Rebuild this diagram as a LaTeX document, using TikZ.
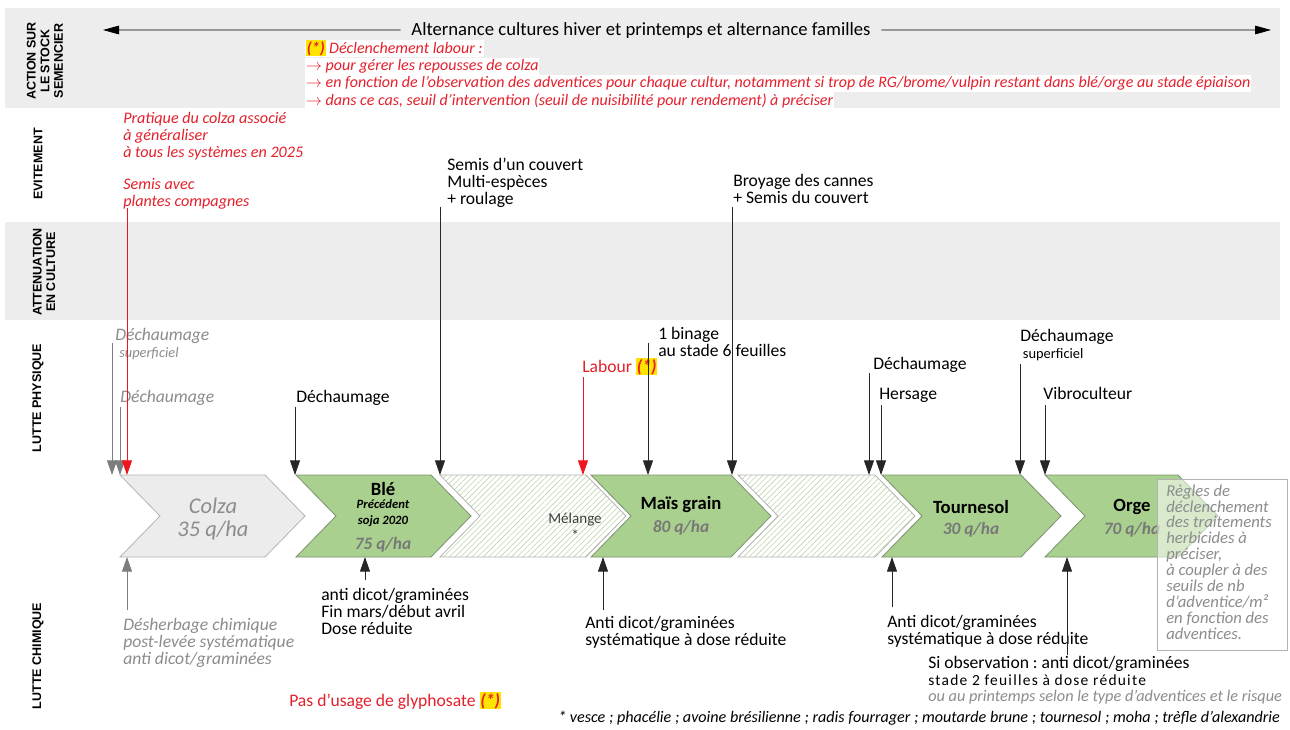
\documentclass[tikz,border=0pt]{standalone}
\usepackage{fontspec}
\setmainfont{Carlito}
\newfontfamily\labfont{Liberation Sans}
\newfontfamily\spacedfont{Carlito}[LetterSpace=8]
\usetikzlibrary{arrows.meta,patterns.meta}

\definecolor{bandgrey}{RGB}{237,237,237}
\definecolor{notered}{RGB}{228,32,44}
\definecolor{arrowred}{RGB}{240,20,30}
\definecolor{softgrey}{RGB}{140,140,140}
\definecolor{linegrey}{RGB}{125,125,125}
\definecolor{cropgreen}{RGB}{169,208,142}
\definecolor{cropedge}{RGB}{125,145,112}
\definecolor{colzafill}{RGB}{236,236,236}
\definecolor{colzaedge}{RGB}{180,180,180}
\definecolor{hatchgreen}{RGB}{190,214,172}
\definecolor{hlyellow}{RGB}{255,228,0}
\definecolor{yieldgrey}{RGB}{120,120,120}

\setlength{\fboxsep}{0.6pt}
\newcommand\hlstar{\colorbox{hlyellow}{\textbf{\textit{(*)}}}}
\newcommand\whl[1]{\colorbox{white}{\rule[-2.6pt]{0pt}{11.6pt}#1}}
\newcommand\rarr{$\rightarrow$}

% one crop of the rotation: left edge x0, top-right corner x1
\newcommand\chevron[3]{%
  \path[#3] (#1,475) -- (#2,475) -- (#2+40,516) -- (#2,557)
    -- (#1,557) -- (#1+40,516) -- cycle;}

% multi-line texts are anchored on the baseline of their last line
\tikzset{
  band/.style={fill=bandgrey, draw=none},
  sidelabel/.style={rotate=90, inner sep=0pt, align=center,
    font=\labfont\bfseries\fontsize{9.4}{10.2}\selectfont},
  txt/.style={anchor=base west, inner sep=0pt, align=left,
    font=\fontsize{13.2}{12.75}\selectfont},
  redtxt/.style={txt, text=notered, font=\itshape\fontsize{12}{13}\selectfont},
  greytxt/.style={txt, text=softgrey, font=\itshape\fontsize{13.2}{12.75}\selectfont},
  arr/.style={line width=0.75pt, -{Triangle[width=7.5pt,length=11pt]}},
  greyarr/.style={arr, draw=linegrey, fill=linegrey},
  redarr/.style={arr, draw=arrowred, fill=arrowred},
  blackarr/.style={arr, draw=black!85, fill=black},
  greencrop/.style={fill=cropgreen, draw=cropedge, line width=0.6pt},
  colzacrop/.style={fill=colzafill, draw=colzaedge, line width=0.6pt},
  hatchcrop/.style={preaction={fill=white},
    pattern={Lines[angle=45,distance=3pt,line width=0.45pt]},
    pattern color=hatchgreen},
  hatchedge/.style={draw=colzaedge, line width=0.6pt},
  cropname/.style={font=\bfseries\fontsize{14}{14}\selectfont, inner sep=0pt},
  yield/.style={font=\bfseries\itshape\fontsize{13}{14}\selectfont, text=yieldgrey, inner sep=0pt},
}

\begin{document}
\frenchspacing
\begin{tikzpicture}[x=0.75pt,y=-0.75pt]
\useasboundingbox (0,0) rectangle (1290,729);
\fill[white] (0,0) rectangle (1290,729);

% bands
\path[band] (5,8) rectangle (1280,108);
\path[band] (5,222) rectangle (1280,320);

% side labels
\node[sidelabel] (lab-stock) at (45,61) {ACTION SUR\\LE STOCK\\SEMENCIER};
\node[sidelabel] (lab-evit) at (38,164) {EVITEMENT};
\node[sidelabel] (lab-att) at (44,272) {ATTENUATION\\EN CULTURE};
\node[sidelabel] (lab-phys) at (38,398) {LUTTE PHYSIQUE};
\node[sidelabel] (lab-chim) at (38,656) {LUTTE CHIMIQUE};

% ploughing trigger notes
\node[redtxt] (labour-note) at (305,105) {%
  \whl{\hlstar\ Déclenchement labour :}\\
  \whl{\rarr\ pour gérer les repousses de colza}\\
  \whl{\rarr\ en fonction de l’observation des adventices pour chaque cultur, notamment si trop de RG/brome/vulpin restant dans blé/orge au stade épiaison}\\
  \whl{\rarr\ dans ce cas, seuil d’intervention (seuil de nuisibilité pour rendement) à préciser}};

% rotation arrow
\node[font=\fontsize{14}{14}\selectfont, inner xsep=8pt, inner ysep=0pt, anchor=base] (alt) at (641,35)
  {Alternance cultures hiver et printemps et alternance familles};
\coordinate (altL) at (103,30);
\coordinate (altR) at (1271,30);
\draw[line width=0.6pt, -{Triangle[width=6.5pt,length=12pt]}] (alt.west) -- (altL);
\draw[line width=0.6pt, -{Triangle[width=6.5pt,length=12pt]}] (alt.east) -- (altR);

% avoidance notes
\node[redtxt, font=\itshape\fontsize{12.1}{12.4}\selectfont] (colza-asso) at (123,157)
  {Pratique du colza associé\\à généraliser\\à tous les systèmes en 2025};
\node[redtxt, font=\itshape\fontsize{12.1}{12.4}\selectfont] (compagnes) at (123,206)
  {Semis avec\\plantes compagnes};

% crop rotation
\chevron{120}{265}{colzacrop}
\chevron{296}{431}{greencrop}
\chevron{440}{586}{hatchcrop}
\chevron{440}{586}{hatchedge}
\chevron{591}{731}{greencrop}
\chevron{738}{875}{hatchcrop}
\chevron{738}{875}{hatchedge}
\chevron{882}{1021}{greencrop}
\chevron{1045}{1178}{greencrop}

\node[font=\itshape\fontsize{16.8}{17.25}\selectfont, text=softgrey, align=center, inner sep=0pt] (colza) at (213,519) {Colza\\35 q/ha};
\node[cropname] (ble) at (383,489) {Blé};
\node[font=\bfseries\itshape\fontsize{9.5}{12}\selectfont, align=center, inner sep=0pt] (ble-prec) at (383,513) {Précédent\\soja 2020};
\node[yield] (ble-yield) at (383,545) {75 q/ha};
\node[font=\fontsize{11.3}{12.5}\selectfont, text=black!75, align=center, inner sep=0pt] (melange) at (575,527) {Mélange\\*};
\node[cropname] (mais) at (681,505) {Maïs grain};
\node[yield] (mais-yield) at (681,528) {80 q/ha};
\node[cropname] (tournesol) at (971,507) {Tournesol};
\node[yield] (tournesol-yield) at (971,530) {30 q/ha};
\node[cropname] (orge) at (1132,507) {Orge};
\node[yield] (orge-yield) at (1132,530) {70 q/ha};

% mechanical control labels
\node[greytxt] (dech-sup1) at (115,357) {Déchaumage\\\hspace*{3pt}{\fontsize{10.8}{12}\selectfont superficiel}};
\node[greytxt] (dech-colza) at (120,402) {Déchaumage};
\node[txt] (dech-ble) at (296,402) {Déchaumage};
\node[txt] (semis-couvert) at (447,204) {Semis d’un couvert\\Multi-espèces\\+ roulage};
\node[txt, text=notered] (labour) at (582,372) {Labour \hlstar};
\node[txt] (binage) at (658,356) {1 binage\\au stade 6 feuilles};
\node[txt] (broyage) at (733,203) {Broyage des cannes\\+ Semis du couvert};
\node[txt] (dech-tour) at (873,369) {Déchaumage};
\node[txt] (hersage) at (879,399) {Hersage};
\node[txt] (dech-sup2) at (1020,358) {Déchaumage\\\hspace*{2pt}{\fontsize{10.8}{12}\selectfont superficiel}};
\node[txt] (vibro) at (1043,399) {Vibroculteur};

% interventions from above
\coordinate (s1) at (112,343);  \coordinate (e1) at (112,475);
\coordinate (s2) at (120,407);  \coordinate (e2) at (120,475);
\coordinate (s3) at (127,208);  \coordinate (e3) at (127,475);
\coordinate (s4) at (295,407);  \coordinate (e4) at (295,475);
\coordinate (s5) at (440,207);  \coordinate (e5) at (440,475);
\coordinate (s6) at (583,377);  \coordinate (e6) at (583,475);
\coordinate (s7) at (648,343);  \coordinate (e7) at (648,475);
\coordinate (s8) at (732,207);  \coordinate (e8) at (732,475);
\coordinate (s9) at (869,373);  \coordinate (e9) at (869,475);
\coordinate (s10) at (881,405); \coordinate (e10) at (881,475);
\coordinate (s11) at (1020,364); \coordinate (e11) at (1020,475);
\coordinate (s12) at (1045,405); \coordinate (e12) at (1045,475);
\draw[greyarr] (s1) -- (e1);
\draw[greyarr] (s2) -- (e2);
\draw[redarr] (s3) -- (e3);
\draw[blackarr] (s4) -- (e4);
\draw[blackarr] (s5) -- (e5);
\draw[redarr] (s6) -- (e6);
\draw[blackarr] (s7) -- (e7);
\draw[blackarr] (s8) -- (e8);
\draw[blackarr] (s9) -- (e9);
\draw[blackarr] (s10) -- (e10);
\draw[blackarr] (s11) -- (e11);
\draw[blackarr] (s12) -- (e12);

% chemical control labels
\node[greytxt] (desherb) at (123,664) {Désherbage chimique\\post-levée systématique\\anti dicot/graminées};
\node[txt] (ble-chim) at (321,634) {anti dicot/graminées\\Fin mars/début avril\\Dose réduite};
\node[txt] (mais-chim) at (585,645) {Anti dicot/graminées\\systématique à dose réduite};
\node[txt] (tour-chim) at (887,644) {Anti dicot/graminées\\systématique à dose réduite};
\node[txt] (orge-chim) at (928,668) {Si observation : anti dicot/graminées};
\node[txt, font=\spacedfont\fontsize{11.6}{12}\selectfont] (orge-chim2) at (928,685) {stade 2 feuilles à dose réduite};
\node[txt, text=softgrey, font=\itshape\fontsize{12.2}{12}\selectfont] (orge-chim3) at (928,701) {ou au printemps selon le type d’adventices et le risque};
\node[txt, text=notered] (glypho) at (289,706) {Pas d’usage de glyphosate \hlstar};
\node[txt, font=\itshape\fontsize{12.1}{12}\selectfont] (melange-note) at (558,722)
  {* vesce ; phacélie ; avoine brésilienne ; radis fourrager ; moutarde brune ; tournesol ; moha ; trèfle d’alexandrie};

% interventions from below
\coordinate (b1) at (127,610);  \coordinate (c1) at (127,557);
\coordinate (b2) at (365,580);  \coordinate (c2) at (365,557);
\coordinate (b3) at (603,610);  \coordinate (c3) at (603,557);
\coordinate (b4) at (892,607);  \coordinate (c4) at (892,557);
\coordinate (b5) at (1067,655); \coordinate (c5) at (1067,557);
\draw[greyarr] (b1) -- (c1);
\draw[blackarr] (b2) -- (c2);
\draw[blackarr] (b3) -- (c3);
\draw[blackarr] (b4) -- (c4);
\draw[blackarr] (b5) -- (c5);

% herbicide trigger rules
\path[fill=white, fill opacity=0.55, draw=gray!60, line width=0.6pt] (1157,479) rectangle (1287,650);
\node[txt, text=softgrey, font=\itshape\fontsize{12.5}{11.9}\selectfont] (rules) at (1166,639)
  {Règles de\\déclenchement\\des traitements\\herbicides à\\préciser,\\à coupler à des\\seuils de nb\\d’adventice/m²\\en fonction des\\adventices.};
\end{tikzpicture}
\end{document}
